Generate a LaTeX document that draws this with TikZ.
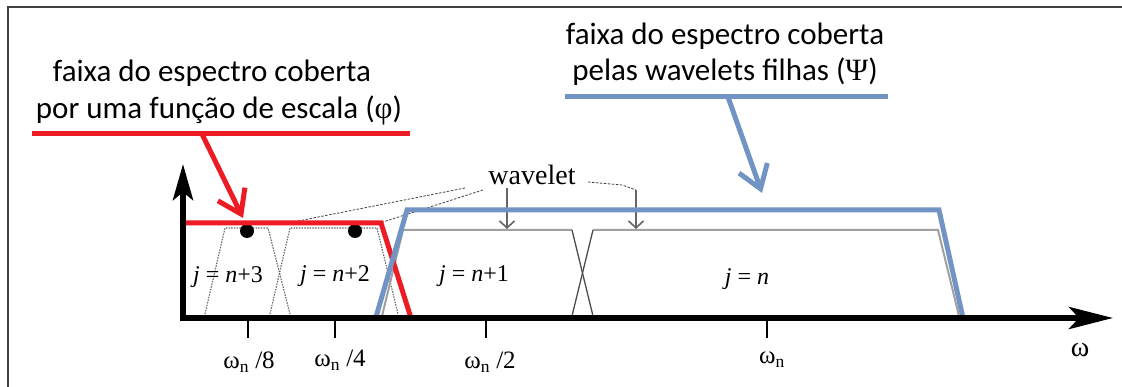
\documentclass[tikz,border=0pt]{standalone}
\usepackage{fontspec}
\setmainfont{Liberation Serif}
\newfontfamily\calib{Carlito}
\usetikzlibrary{arrows.meta}
\definecolor{myred}{HTML}{ED1C24}
\definecolor{myblue}{HTML}{7294C4}
\definecolor{mygray}{HTML}{A0A0A0}
\begin{document}
\begin{tikzpicture}[x=1pt,y=-1pt,
  frame/.style={black!75, line width=2.5pt},
  redline/.style={myred, line width=5pt, line join=miter},
  blueline/.style={myblue, line width=5pt, line join=miter},
  band/.style={mygray, line width=2pt},
  cross/.style={black!70, line width=1.3pt},
  dotband/.style={black!60, line width=1.1pt, dash pattern=on 1.5pt off 1.2pt},
  axisline/.style={black, line width=6pt},
  ticks/.style={black, line width=2pt},
  annot/.style={font=\calib\fontsize{31}{36}\selectfont, inner sep=0pt, anchor=base},
  jlab/.style={font=\fontsize{24}{28}\selectfont, inner sep=0pt},
  tlab/.style={font=\fontsize{25}{28}\selectfont, inner sep=0pt},
  wlab/.style={font=\fontsize{28}{32}\selectfont, inner sep=0pt, anchor=base},
  wdash/.style={black!75, line width=0.8pt, dash pattern=on 2.5pt off 1.5pt},
  garrow/.style={black!60, line width=1.6pt, -{Straight Barb[length=7pt,width=15pt]}},
  bigarrowred/.style={myred, line width=5pt, -{Straight Barb[length=22pt,width=30pt]}},
  bigarrowblue/.style={myblue, line width=5pt, -{Straight Barb[length=22pt,width=30pt]}},
  dot/.style={circle, fill=black, inner sep=0pt, minimum size=14pt}
]
\useasboundingbox (0,0) rectangle (1122,387);
% frame
\draw[frame] (8,387) -- (8,7) -- (1122,7);

% dotted bands (j=n+3, j=n+2)
\draw[dotband] (205,314) -- (225,228) -- (268,228) -- (290,314);
\draw[dotband] (270,314) -- (290,228) -- (377,228) -- (398,314);
% gray bands (j=n+1, j=n)
\draw[band] (382,316) -- (403,230) -- (572,230);
\draw[cross] (572,230) -- (593,316);
\draw[band] (593,230) -- (938,230) -- (959,316);
\draw[cross] (572,316) -- (593,230);

% dots
\node[dot] (d1) at (247,231) {};
\node[dot] (d2) at (355,231) {};

% wavelet label and connectors
\node[wlab] (wav) at (532,185) {wavelet};
\coordinate (wA) at (465,188);
\coordinate (wB) at (483,190);
\coordinate (dA) at (293,222);
\coordinate (dB) at (383,222);
\draw[wdash] (wA) -- (dA);
\draw[wdash] (wB) -- (dB);
\coordinate (g1s) at (507,188);
\coordinate (g1e) at (507,229);
\draw[garrow] (g1s) -- (g1e);
\coordinate (g2a) at (588,182);
\coordinate (g2b) at (622,185);
\coordinate (g2c) at (636,190);
\coordinate (g2e) at (636,229);
\draw[wdash] (g2a) -- (g2b) -- (g2c);
\draw[garrow] (g2c) -- (g2e);

% j labels
\node[jlab] (j3) at (228,277) {\textit{j} = \textit{n}+3};
\node[jlab] (j2) at (335,276) {\textit{j} = \textit{n}+2};
\node[jlab] (j1) at (474,276) {\textit{j} = \textit{n}+1};
\node[jlab] (j0) at (747,279) {\textit{j} = \textit{n}};

% red spectrum (scaling function)
\draw[redline] (183,223) -- (381,223) -- (411,318);
% blue spectrum (wavelets)
\draw[blueline] (376,317) -- (407,210) -- (939,210) -- (963,318);

% axes
\coordinate (origin) at (180,318);
\coordinate (xend) at (1113,318);
\coordinate (yorig) at (183,321);
\coordinate (yend) at (183,164);
\draw[axisline, -{Stealth[length=44pt,width=22pt,inset=10pt]}] (origin) -- (xend);
\draw[axisline, -{Stealth[length=36pt,width=20pt,inset=8pt]}] (yorig) -- (yend);

% ticks
\foreach \n/\x in {t8/248, t4/335, t2/486, t1/767}{
  \coordinate (\n a) at (\x,320);
  \coordinate (\n b) at (\x,338);
  \draw[ticks] (\n a) -- (\n b);
}
\node[tlab] (l8) at (249,362) {ω\textsubscript{n} /8};
\node[tlab] (l4) at (340,360) {ω\textsubscript{n} /4};
\node[tlab] (l2) at (490,362) {ω\textsubscript{n} /2};
\node[tlab] (l1) at (772,360) {ω\textsubscript{n}};
\node[font=\fontsize{28}{32}\selectfont, inner sep=0pt] (om) at (1080,350) {ω};

% red annotation
\node[annot] (r1) at (212,82) {faixa do espectro coberta};
\node[annot] (r2) at (219,119) {por uma função de escala ({\rmfamily φ})};
\coordinate (rl1) at (32,134);
\coordinate (rl2) at (410,134);
\draw[myred, line width=5pt] (rl1) -- (rl2);
\coordinate (ras) at (202,134);
\coordinate (rat) at (243,218);
\draw[bigarrowred] (ras) -- (rat);

% blue annotation
\node[annot] (b1) at (725,45) {faixa do espectro coberta};
\node[annot] (b2) at (725,81) {pelas wavelets filhas ({\rmfamily Ψ})};
\coordinate (bl1) at (565,97);
\coordinate (bl2) at (888,97);
\draw[myblue, line width=5pt] (bl1) -- (bl2);
\coordinate (bas) at (728,97);
\coordinate (bat) at (762,193);
\draw[bigarrowblue] (bas) -- (bat);
\end{tikzpicture}
\end{document}
